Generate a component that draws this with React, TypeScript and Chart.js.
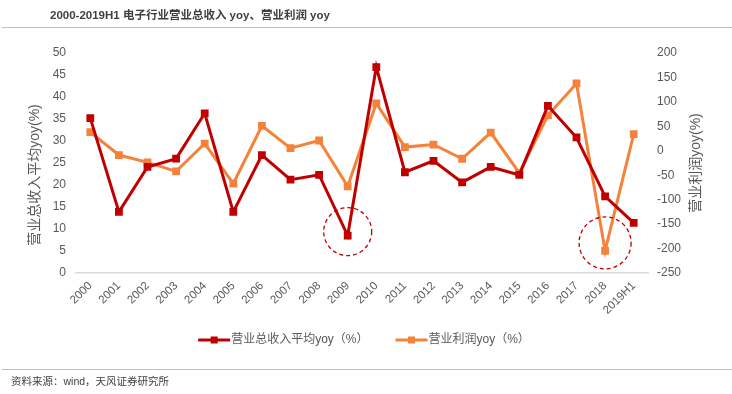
import React, { useEffect, useRef } from "react";
import { Chart, registerables } from "chart.js";

Chart.register(...registerables);

const years = ["2000","2001","2002","2003","2004","2005","2006","2007","2008","2009","2010","2011","2012","2013","2014","2015","2016","2017","2018","2019H1"];
const revenueYoy = [35.2,13.9,24.1,26.0,36.3,13.9,26.8,21.2,22.3,8.5,46.8,22.9,25.5,20.6,24.1,22.3,38.0,30.8,17.4,11.4];
const profitYoy = [38,-8.7,-23.7,-42,14.8,-67,51,5.5,21,-72.6,97,7.5,12.8,-16.3,37.3,-45.4,72.6,137.7,-204.8,34];
const revenueLabel = "营业总收入平均yoy（%）";
const profitLabel = "营业利润yoy（%）";
const leftTitle = "营业总收入平均yoy(%)";
const rightTitle = "营业利润yoy(%)";
const titleText = "2000-2019H1 电子行业营业总收入 yoy、营业利润 yoy";
const sourceText = "资料来源：wind，天风证券研究所";
const highlights = [
  { dataset: 0, index: 9 },
  { dataset: 1, index: 18 },
];

const RED = "#C00000";
const ORANGE = "#F4823A";
const TICK = "#595959";
const FONT = "'Liberation Sans', 'Noto Sans CJK SC', sans-serif";

export default function App() {
  const ref = useRef<HTMLCanvasElement | null>(null);
  useEffect(() => {
    if (!ref.current) return;
    const extras = {
      id: "extras",
      afterDraw(chart: any) {
        const ctx = chart.ctx as CanvasRenderingContext2D;
        const area = chart.chartArea;
        ctx.save();
        // header
        ctx.fillStyle = "#3F3F3F";
        ctx.font = `bold 11.5px ${FONT}`;
        ctx.textBaseline = "middle";
        ctx.textAlign = "left";
        ctx.fillText(titleText, 50, 16);
        ctx.strokeStyle = "#E9B983";
        ctx.lineWidth = 1;
        ctx.beginPath();
        ctx.moveTo(2, 27.5);
        ctx.lineTo(732, 27.5);
        ctx.moveTo(2, 369.5);
        ctx.lineTo(732, 369.5);
        ctx.stroke();
        ctx.fillStyle = "#404040";
        ctx.font = `10.5px ${FONT}`;
        ctx.fillText(sourceText, 11, 382);
        // axis titles
        ctx.fillStyle = TICK;
        ctx.font = `14px ${FONT}`;
        ctx.textAlign = "center";
        ctx.save();
        ctx.translate(area.left - 41, (area.top + area.bottom) / 2 + 12);
        ctx.rotate(-Math.PI / 2);
        ctx.fillText(leftTitle, 0, 0);
        ctx.restore();
        ctx.save();
        ctx.translate(area.right + 48, (area.top + area.bottom) / 2);
        ctx.rotate(-Math.PI / 2);
        ctx.fillText(rightTitle, 0, 0);
        ctx.restore();
        // highlight circles
        ctx.strokeStyle = RED;
        ctx.lineWidth = 1.3;
        ctx.setLineDash([4, 3]);
        highlights.forEach((h, k) => {
          const pt = chart.getDatasetMeta(h.dataset).data[h.index];
          const r = k === 0 ? 24 : 26;
          const dy = k === 0 ? -4 : -8;
          ctx.beginPath();
          ctx.arc(pt.x, pt.y + dy, r, 0, Math.PI * 2);
          ctx.stroke();
        });
        ctx.setLineDash([]);
        // legend
        ctx.font = `12px ${FONT}`;
        ctx.textAlign = "left";
        const items = [
          { label: revenueLabel, color: RED },
          { label: profitLabel, color: ORANGE },
        ];
        const lineW = 32;
        const gap = 27;
        const widths = items.map((it) => ctx.measureText(it.label).width);
        const total = widths.reduce((a, b) => a + b + lineW + 1, 0) + gap;
        let x = 364 - total / 2;
        const ly = 340;
        items.forEach((it, i) => {
          ctx.strokeStyle = it.color;
          ctx.lineWidth = 3;
          ctx.beginPath();
          ctx.moveTo(x, ly);
          ctx.lineTo(x + lineW, ly);
          ctx.stroke();
          ctx.fillStyle = it.color;
          ctx.fillRect(x + lineW / 2 - 3.5, ly - 3.5, 7, 7);
          ctx.fillStyle = TICK;
          ctx.fillText(it.label, x + lineW + 1, ly);
          x += lineW + 1 + widths[i] + gap;
        });
        ctx.restore();
      },
    };
    const chart = new Chart(ref.current, {
      type: "line",
      data: {
        labels: years,
        datasets: [
          {
            label: revenueLabel,
            data: revenueYoy,
            yAxisID: "y",
            borderColor: RED,
            backgroundColor: RED,
            borderWidth: 3,
            pointStyle: "rect",
            pointRadius: 5.5,
            pointBorderWidth: 0,
            tension: 0,
          },
          {
            label: profitLabel,
            data: profitYoy,
            yAxisID: "y1",
            borderColor: ORANGE,
            backgroundColor: ORANGE,
            borderWidth: 3,
            pointStyle: "rect",
            pointRadius: 5.5,
            pointBorderWidth: 0,
            tension: 0,
          },
        ],
      },
      options: {
        responsive: false,
        animation: false,
        layout: { padding: { left: 0, right: 0, top: 53, bottom: 0 } },
        plugins: { legend: { display: false }, tooltip: { enabled: false }, title: { display: false } },
        scales: {
          x: {
            offset: true,
            grid: { display: false, drawTicks: false },
            border: { display: true, color: "#D9D9D9", width: 1.5 },
            ticks: {
              color: TICK,
              font: { size: 11.5, family: FONT },
              maxRotation: 45,
              minRotation: 45,
              padding: 6,
              autoSkip: false,
            },
            afterFit: (s: any) => { s.height = 121; },
          },
          y: {
            position: "left",
            min: 0,
            max: 50,
            grid: { display: false, drawTicks: false },
            border: { display: false },
            ticks: { stepSize: 5, color: TICK, font: { size: 12, family: FONT }, padding: 10 },
            afterFit: (s: any) => { s.width = 76; },
          },
          y1: {
            position: "right",
            min: -250,
            max: 200,
            grid: { display: false, drawTicks: false },
            border: { display: false },
            ticks: { stepSize: 50, color: TICK, font: { size: 12, family: FONT }, padding: 9 },
            afterFit: (s: any) => { s.width = 84; },
          },
        },
      },
      plugins: [extras],
    });
    return () => chart.destroy();
  }, []);
  return (
    <div style={{ position: "absolute", left: 0, top: 0, width: 732, height: 394, background: "#fff" }}>
      <canvas ref={ref} width={732} height={394} style={{ display: "block" }} />
    </div>
  );
}
